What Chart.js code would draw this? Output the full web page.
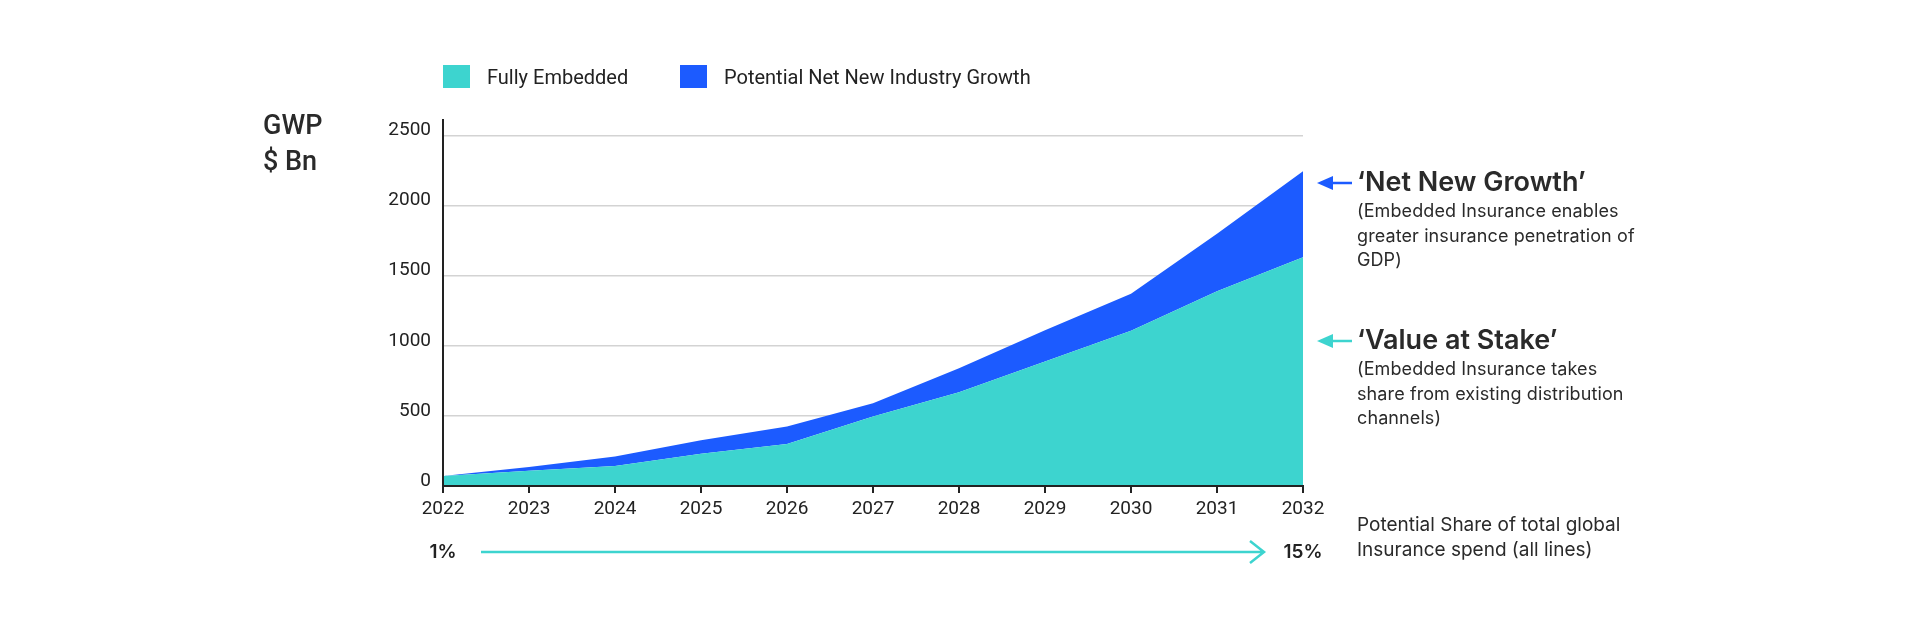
<!DOCTYPE html>
<html>
<head>
<meta charset="utf-8">
<script src="https://cdn.jsdelivr.net/npm/chart.js@4.4.1/dist/chart.umd.min.js"></script>
<style>
  body { margin: 0; background: #fff; }
  #wrap { position: relative; width: 1920px; height: 621px; overflow: hidden; font-family: Inter, Roboto, sans-serif; color: #2a2a2a; }
  #chart { position: absolute; left: 0; top: 0; }
  .legend-item { position: absolute; top: 65px; height: 23px; display: flex; align-items: center; font-family: Roboto, sans-serif; font-size: 20px; color: #222; }
  .legend-item .swatch { width: 27px; height: 23px; margin-right: 17px; }
  #unit { position: absolute; left: 263px; top: 107px; font-family: Roboto, sans-serif; font-weight: 500; font-size: 27px; line-height: 36px; color: #2a2a2a; }
  .note { position: absolute; left: 1357px; }
  .note .head { font-weight: 600; font-size: 27px; line-height: 32px; }
  .note .sub { font-size: 18px; line-height: 24.5px; margin-top: 1px; letter-spacing: 0.1px; }
  #share { position: absolute; left: 1357px; top: 512px; font-size: 19px; line-height: 25px; }
</style>
</head>
<body>
<div id="wrap">
  <canvas id="chart" width="1920" height="621"></canvas>
  <div id="legend"></div>
  <div id="unit">GWP<br>$ Bn</div>
  <div class="note" style="top:166px">
    <div class="head">‘Net New Growth’</div>
    <div class="sub">(Embedded Insurance enables<br>greater insurance penetration of<br>GDP)</div>
  </div>
  <div class="note" style="top:324px">
    <div class="head">‘Value at Stake’</div>
    <div class="sub">(Embedded Insurance takes<br>share from existing distribution<br>channels)</div>
  </div>
  <div id="share">Potential Share of total global<br>Insurance spend (all lines)</div>
</div>
<script>
// data
const years = ['2022', '2023', '2024', '2025', '2026', '2027', '2028', '2029', '2030', '2031', '2032'];
const fullyEmbedded = [72, 108, 142, 230, 300, 495, 669, 888, 1107, 1388, 1631];
const netNewGrowth = [0, 27, 68, 96, 124, 95, 171, 222, 264, 410, 614];
const yTickValues = [0, 500, 1000, 1500, 2000, 2500];
const yMax = 2610; // axis line runs a little above the 2500 grid line
const shareStart = '1%';
const shareEnd = '15%';

const TEAL = '#3dd4cf';
const BLUE = '#1c5bff';
const INK = '#222';

const datasets = [
  { label: 'Fully Embedded', data: fullyEmbedded, backgroundColor: TEAL, fill: 'origin' },
  { label: 'Potential Net New Industry Growth', data: netNewGrowth, backgroundColor: BLUE, fill: '-1' }
];

// legend built from the datasets
const legendLeft = [443, 680];
const legend = document.getElementById('legend');
datasets.forEach((ds, i) => {
  const item = document.createElement('div');
  item.className = 'legend-item';
  item.style.left = legendLeft[i] + 'px';
  item.innerHTML = `<span class="swatch" style="background:${ds.backgroundColor}"></span>${ds.label}`;
  legend.appendChild(item);
});

// arrows next to the chart + the share arrow under the x axis
const annotations = {
  id: 'annotations',
  afterDraw(chart) {
    const ctx = chart.ctx;
    const area = chart.chartArea;
    const x = chart.scales.x;
    const x0 = x.getPixelForValue(0);
    const x1 = x.getPixelForValue(years.length - 1);
    const yShare = area.bottom + 66;

    ctx.save();
    // share labels
    ctx.fillStyle = INK;
    ctx.font = '600 19px Inter, Roboto, sans-serif';
    ctx.textAlign = 'center';
    ctx.textBaseline = 'middle';
    ctx.fillText(shareStart, x0, yShare);
    ctx.fillText(shareEnd, x1, yShare);

    // share arrow
    ctx.strokeStyle = TEAL;
    ctx.lineWidth = 2.5;
    ctx.beginPath();
    ctx.moveTo(x0 + 38, yShare);
    ctx.lineTo(x1 - 39, yShare);
    ctx.moveTo(x1 - 53, yShare - 11);
    ctx.lineTo(x1 - 39, yShare);
    ctx.lineTo(x1 - 53, yShare + 11);
    ctx.stroke();

    // pointer arrows
    [[BLUE, 183], [TEAL, 341]].forEach(([color, y]) => {
      const tip = area.right + 14;
      ctx.strokeStyle = color;
      ctx.fillStyle = color;
      ctx.lineWidth = 2.5;
      ctx.beginPath();
      ctx.moveTo(tip + 10, y);
      ctx.lineTo(tip + 35, y);
      ctx.stroke();
      ctx.beginPath();
      ctx.moveTo(tip, y);
      ctx.lineTo(tip + 16, y - 7);
      ctx.lineTo(tip + 16, y + 7);
      ctx.closePath();
      ctx.fill();
    });
    ctx.restore();
  }
};

Chart.defaults.font.family = 'Roboto, sans-serif';
Chart.defaults.color = INK;

new Chart(document.getElementById('chart'), {
  type: 'line',
  data: {
    labels: years,
    datasets: datasets.map(ds => ({
      ...ds,
      borderWidth: 0,
      pointRadius: 0,
      tension: 0
    }))
  },
  options: {
    responsive: false,
    animation: false,
    devicePixelRatio: 1,
    layout: { padding: { left: 300, right: 617, top: 120, bottom: 75 } },
    plugins: { legend: { display: false }, tooltip: { enabled: false } },
    scales: {
      x: {
        offset: false,
        grid: { drawOnChartArea: false, drawTicks: true, tickLength: 7, color: INK, lineWidth: 2 },
        border: { color: INK, width: 2, z: 1 },
        ticks: { font: { size: 19 }, padding: 5, maxRotation: 0, autoSkip: false },
        afterFit(scale) { scale.height = 60; }
      },
      y: {
        stacked: true,
        min: 0,
        max: yMax,
        grid: { color: '#d3d3d3', lineWidth: 1.5, drawTicks: false },
        border: { color: INK, width: 2, z: 1 },
        ticks: {
          autoSkip: false,
          padding: 12,
          labelOffset: -5,
          font: { size: 19 },
          callback: v => String(v)
        },
        // fixed tick set: the axis max sits above the last labelled tick
        afterBuildTicks(scale) { scale.ticks = yTickValues.map(v => ({ value: v })); },
        afterFit(scale) { scale.width = 143; }
      }
    }
  },
  plugins: [annotations]
});
</script>
</body>
</html>
